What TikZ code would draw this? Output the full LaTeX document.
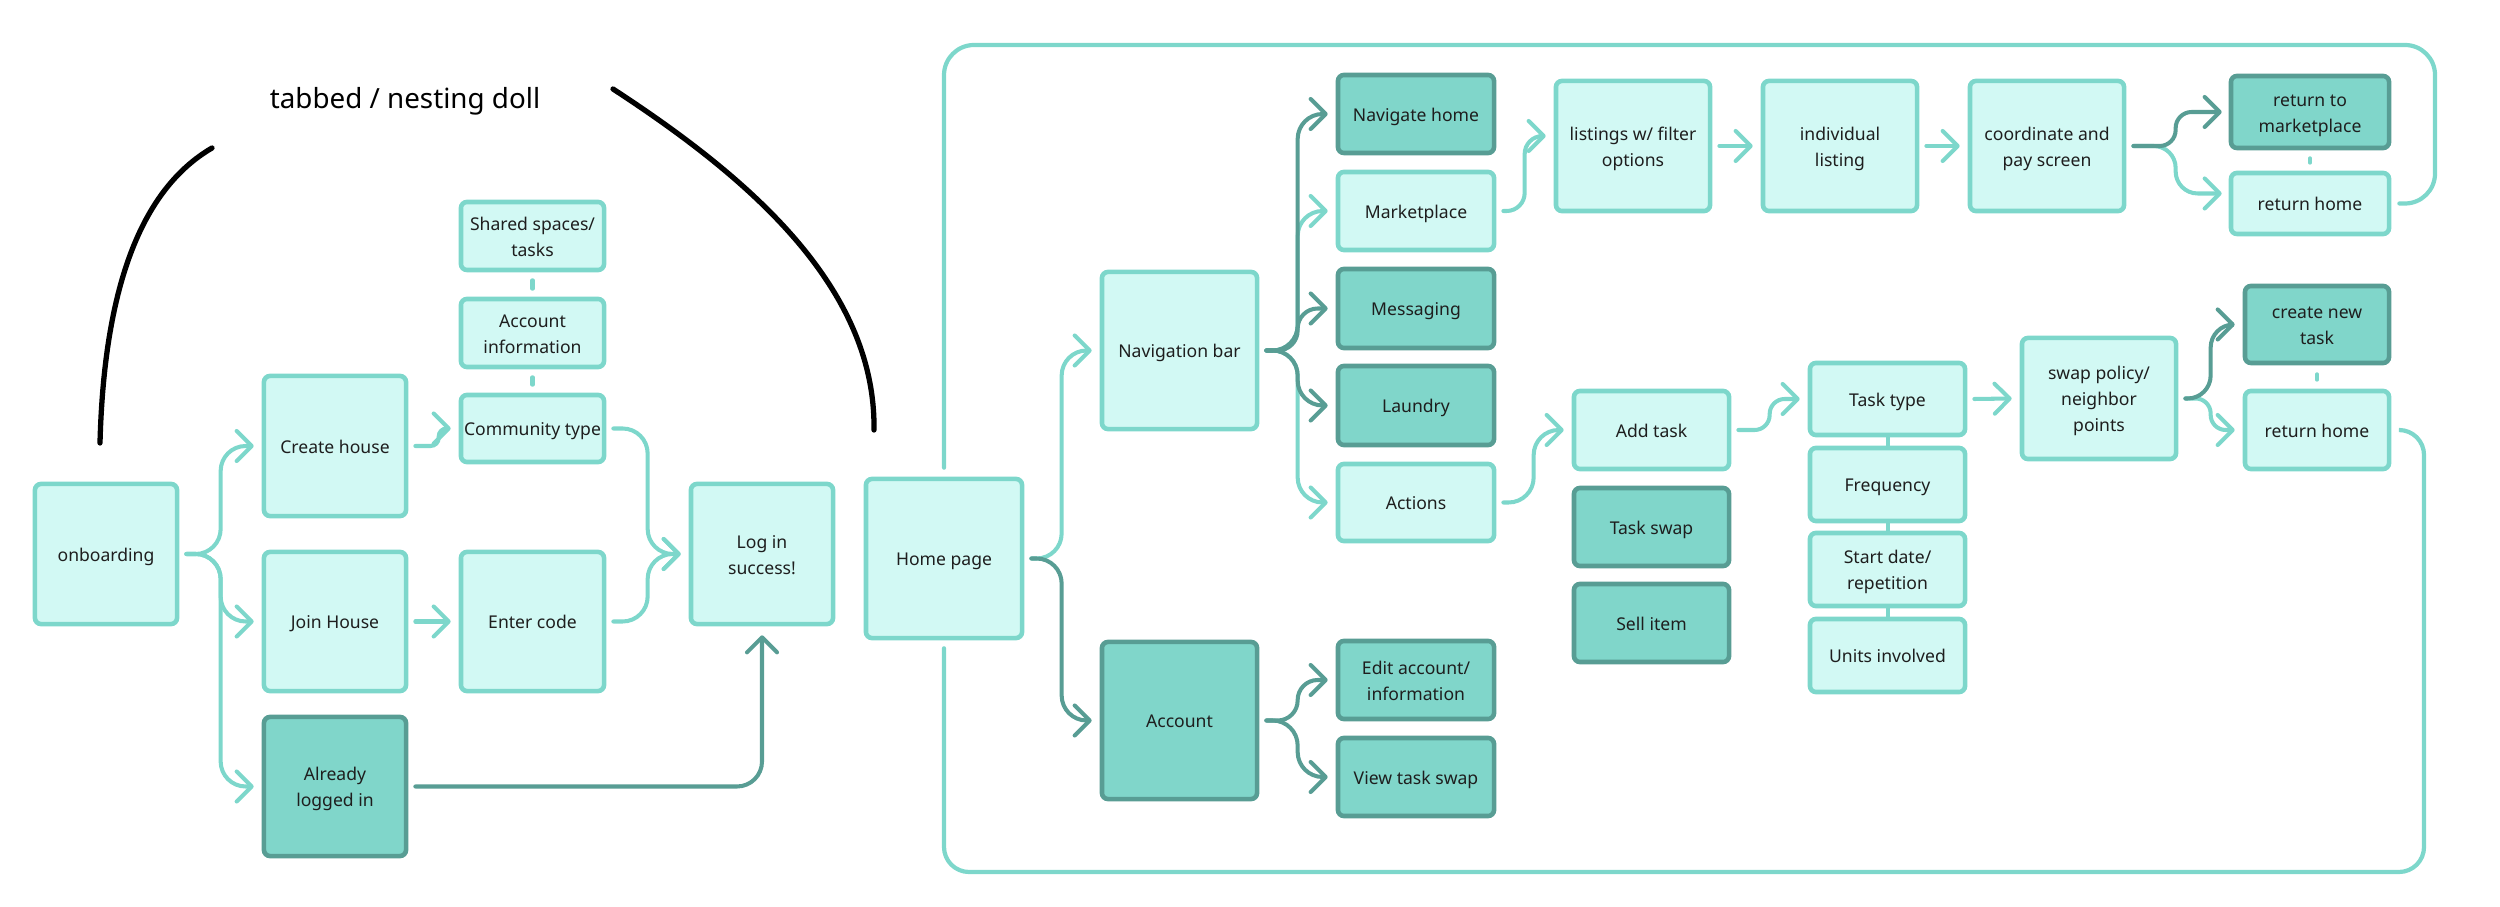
\documentclass[tikz,border=0pt]{standalone}
\usepackage{fontspec}
\setmainfont{Noto Sans}
\usetikzlibrary{arrows.meta,calc}
\definecolor{ltfill}{HTML}{D2F9F4}
\definecolor{ltline}{HTML}{7DD7CB}
\definecolor{dkfill}{HTML}{80D6CA}
\definecolor{dkline}{HTML}{589D94}
\definecolor{txt}{HTML}{1E1E1E}
\newcommand\tb{\rule{0pt}{5.6pt}}
\newcommand\te{\rule[-1.6pt]{0pt}{0pt}}
\begin{document}
\begin{tikzpicture}[x=0.01cm,y=-0.01cm,
  lbox/.style={draw=ltline, fill=ltfill, line width=1.3pt, rounded corners=0.06cm,
    text=txt, align=center, font=\fontsize{5.0}{7.4}\selectfont, inner sep=0pt,
    execute at begin node={\tb},
    execute at end node={\te}},
  dbox/.style={lbox, draw=dkline, fill=dkfill},
  tip/.style={-{Straight Barb[length=0.15cm,width=0.3cm,round]}},
  lcon/.style={draw=ltline, line width=1.15pt, line cap=round, rounded corners=0.25cm, tip},
  dcon/.style={lcon, draw=dkline},
  link/.style={draw=ltline, line width=1.15pt, line cap=round},
  frame/.style={draw=ltline, line width=1.2pt, line cap=round},
  blackarc/.style={draw=black, line width=1.5pt, line cap=round}
]
\useasboundingbox (0,0) rectangle (2500,907);

% ---------- left part ----------
\node[lbox, minimum width=1.42cm, minimum height=1.40cm] (onb) at (106,554) {onboarding};
\node[lbox, minimum width=1.42cm, minimum height=1.40cm] (create) at (335,446) {Create house};
\node[lbox, minimum width=1.42cm, minimum height=1.39cm] (join) at (335,621.5) {Join House};
\node[dbox, minimum width=1.42cm, minimum height=1.39cm] (already) at (335,786.5) {\tb Already\\logged in\te};
\node[lbox, minimum width=1.43cm, minimum height=0.68cm] (shared) at (532.5,236) {\tb Shared spaces/\\tasks\te};
\node[lbox, minimum width=1.43cm, minimum height=0.68cm] (accinfo) at (532.5,333) {\tb Account\\information\te};
\node[lbox, minimum width=1.43cm, minimum height=0.67cm] (community) at (532.5,428.5) {Community type};
\node[lbox, minimum width=1.43cm, minimum height=1.39cm] (enter) at (532.5,621.5) {Enter code};
\node[lbox, minimum width=1.42cm, minimum height=1.40cm] (login) at (762,554) {\tb Log in\\success!\te};

\node[font=\fontsize{7.9}{9}\selectfont, text=black] (tabbed) at (405,101) {tabbed / nesting doll};
\draw[blackarc] (100,443) .. controls (104,290) and (140,190) .. (212,148);
\draw[blackarc] (613,89) .. controls (745,175) and (876,285) .. (874,430);

% ---------- right part ----------
\node[lbox, minimum width=1.56cm, minimum height=1.59cm] (home) at (944,558.5) {Home page};
\node[lbox, minimum width=1.55cm, minimum height=1.57cm] (nav) at (1179.5,350.5) {Navigation bar};
\node[dbox, minimum width=1.55cm, minimum height=1.57cm] (account) at (1179.5,720.5) {Account};
\node[dbox, minimum width=1.56cm, minimum height=0.78cm] (navhome) at (1416,114) {Navigate home};
\node[lbox, minimum width=1.56cm, minimum height=0.78cm] (market) at (1416,211) {Marketplace};
\node[dbox, minimum width=1.56cm, minimum height=0.79cm] (messaging) at (1416,308.5) {Messaging};
\node[dbox, minimum width=1.56cm, minimum height=0.79cm] (laundry) at (1416,405.5) {Laundry};
\node[lbox, minimum width=1.56cm, minimum height=0.77cm] (actions) at (1416,502.5) {Actions};
\node[dbox, minimum width=1.56cm, minimum height=0.78cm] (editacc) at (1416,680) {\tb Edit account/\\information\te};
\node[dbox, minimum width=1.56cm, minimum height=0.78cm] (viewswap) at (1416,777) {View task swap};
\node[lbox, minimum width=1.54cm, minimum height=1.30cm] (listings) at (1633,146) {\tb listings w/ filter\\options\te};
\node[lbox, minimum width=1.54cm, minimum height=1.30cm] (indiv) at (1840,146) {\tb individual\\listing\te};
\node[lbox, minimum width=1.54cm, minimum height=1.30cm] (coord) at (2047,146) {\tb coordinate and\\pay screen\te};
\node[dbox, minimum width=1.58cm, minimum height=0.72cm] (retmarket) at (2310,112) {\tb return to\\marketplace\te};
\node[lbox, minimum width=1.58cm, minimum height=0.61cm] (rethome1) at (2310,203.5) {return home};
\node[lbox, minimum width=1.55cm, minimum height=0.78cm] (addtask) at (1651.5,430) {Add task};
\node[dbox, minimum width=1.55cm, minimum height=0.78cm] (taskswap) at (1651.5,527) {Task swap};
\node[dbox, minimum width=1.55cm, minimum height=0.78cm] (sellitem) at (1651.5,623) {Sell item};
\node[lbox, minimum width=1.55cm, minimum height=0.72cm] (tasktype) at (1887.5,399) {Task type};
\node[lbox, minimum width=1.55cm, minimum height=0.73cm] (frequency) at (1887.5,484.5) {Frequency};
\node[lbox, minimum width=1.55cm, minimum height=0.73cm] (startdate) at (1887.5,569.5) {\tb Start date/\\repetition\te};
\node[lbox, minimum width=1.55cm, minimum height=0.73cm] (units) at (1887.5,655.5) {Units involved};
\node[lbox, minimum width=1.54cm, minimum height=1.21cm] (swappol) at (2099,398.5) {\tb swap policy/\\neighbor\\points\te};
\node[dbox, minimum width=1.44cm, minimum height=0.77cm] (createnew) at (2317,324.5) {\tb create new\\task\te};
\node[lbox, minimum width=1.44cm, minimum height=0.78cm] (rethome2) at (2317,430) {return home};

% ---------- frame ----------
\draw[frame, rounded corners=0.3cm] ([yshift=0.09cm]home.north) -- (home.north |- 0,45) -- (2435,45) -- (2435,203.5) -- ([xshift=0.08cm]rethome1.east);
\draw[frame, rounded corners=0.25cm] ([yshift=-0.08cm]home.south) -- (home.south |- 0,872) -- (2424,872) -- (2424,430) -- ([xshift=0.08cm]rethome2.east);

% ---------- short links ----------
\draw[link, shorten <=0.08cm, shorten >=0.08cm] (shared.south) -- (accinfo.north);
\draw[link, shorten <=0.08cm, shorten >=0.08cm] (accinfo.south) -- (community.north);
\draw[link, shorten <=0.08cm, shorten >=0.08cm] (retmarket.south) -- (rethome1.north);
\draw[link, shorten <=0.09cm, shorten >=0.09cm] (createnew.south) -- (rethome2.north);
\draw[link] (tasktype.south) -- (frequency.north);
\draw[link] (frequency.south) -- (startdate.north);
\draw[link] (startdate.south) -- (units.north);

% ---------- left connectors ----------
\draw[lcon] ([xshift=0.07cm]onb.east) -| ([xshift=-0.41cm]create.west) -- ([xshift=-0.08cm]create.west);
\draw[lcon] ([xshift=0.07cm]onb.east) -| ([xshift=-0.41cm]join.west) -- ([xshift=-0.08cm]join.west);
\draw[lcon] ([xshift=0.07cm]onb.east) -| ([xshift=-0.41cm]already.west) -- ([xshift=-0.08cm]already.west);
\draw[lcon, rounded corners=0.08cm] ([xshift=0.07cm]create.east) -| ([xshift=-0.2cm]community.west) -- ([xshift=-0.08cm]community.west);
\draw[lcon] ([xshift=0.07cm]join.east) -- ([xshift=-0.08cm]enter.west);
\draw[lcon] ([xshift=0.07cm]community.east) -| ([xshift=-0.41cm]login.west) -- ([xshift=-0.08cm]login.west);
\draw[lcon] ([xshift=0.07cm]enter.east) -| ([xshift=-0.41cm]login.west) -- ([xshift=-0.08cm]login.west);
\draw[dcon] ([xshift=0.07cm]already.east) -| ([yshift=-0.09cm]login.south);

% ---------- right connectors ----------
\draw[lcon] ([xshift=0.07cm]home.east) -| ([xshift=-0.38cm]nav.west) -- ([xshift=-0.08cm]nav.west);
\draw[dcon] ([xshift=0.07cm]home.east) -| ([xshift=-0.38cm]account.west) -- ([xshift=-0.08cm]account.west);

\draw[lcon] ([xshift=0.07cm]nav.east) -| ([xshift=-0.38cm]market.west) -- ([xshift=-0.08cm]market.west);
\draw[lcon] ([xshift=0.07cm]nav.east) -| ([xshift=-0.38cm]actions.west) -- ([xshift=-0.08cm]actions.west);
\draw[dcon] ([xshift=0.07cm]nav.east) -| ([xshift=-0.38cm]navhome.west) -- ([xshift=-0.08cm]navhome.west);
\draw[dcon, rounded corners=0.2cm] ([xshift=0.07cm]nav.east) -| ([xshift=-0.38cm]messaging.west) -- ([xshift=-0.08cm]messaging.west);
\draw[dcon] ([xshift=0.07cm]nav.east) -| ([xshift=-0.38cm]laundry.west) -- ([xshift=-0.08cm]laundry.west);

\draw[dcon, rounded corners=0.2cm] ([xshift=0.07cm]account.east) -| ([xshift=-0.38cm]editacc.west) -- ([xshift=-0.08cm]editacc.west);
\draw[dcon] ([xshift=0.07cm]account.east) -| ([xshift=-0.38cm]viewswap.west) -- ([xshift=-0.08cm]viewswap.west);

\draw[lcon, rounded corners=0.18cm] ([xshift=0.07cm]market.east) -| ([xshift=-0.29cm,yshift=0.1cm]listings.west) -- ([xshift=-0.08cm,yshift=0.1cm]listings.west);
\draw[lcon] ([xshift=0.07cm]actions.east) -| ([xshift=-0.38cm]addtask.west) -- ([xshift=-0.08cm]addtask.west);

\draw[lcon] ([xshift=0.07cm]listings.east) -- ([xshift=-0.08cm]indiv.west);
\draw[lcon] ([xshift=0.07cm]indiv.east) -- ([xshift=-0.08cm]coord.west);
\draw[lcon, rounded corners=0.22cm] ([xshift=0.07cm]coord.east) -| ([xshift=-0.53cm,yshift=0.1cm]rethome1.west) -- ([xshift=-0.07cm,yshift=0.1cm]rethome1.west);
\draw[dcon, rounded corners=0.16cm] ([xshift=0.07cm]coord.east) -| ([xshift=-0.53cm]retmarket.west) -- ([xshift=-0.07cm]retmarket.west);

\draw[lcon, rounded corners=0.15cm] ([xshift=0.07cm]addtask.east) -| ([xshift=-0.38cm]tasktype.west) -- ([xshift=-0.08cm]tasktype.west);
\draw[lcon] ([xshift=0.07cm]tasktype.east) -- ([xshift=-0.08cm]swappol.west);

\draw[lcon, rounded corners=0.15cm] ([xshift=0.07cm]swappol.east) -| ([xshift=-0.32cm]rethome2.west) -- ([xshift=-0.08cm]rethome2.west);
\draw[dcon, rounded corners=0.23cm] ([xshift=0.07cm]swappol.east) -| ([xshift=-0.32cm]createnew.west) -- ([xshift=-0.08cm]createnew.west);
\end{tikzpicture}
\end{document}
